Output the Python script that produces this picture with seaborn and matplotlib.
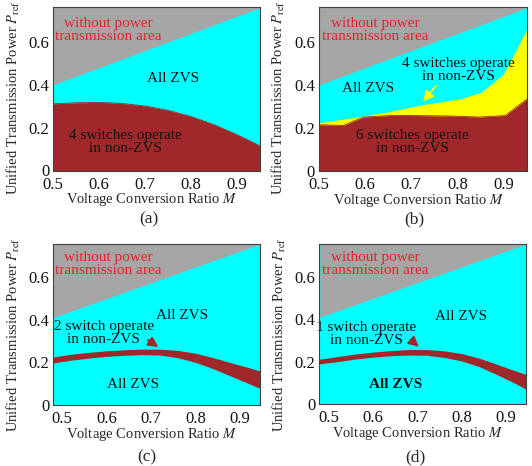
import numpy as np
import matplotlib
matplotlib.use("Agg")
import matplotlib.pyplot as plt
import seaborn as sns

# ---------------- data ----------------
xticks = [0.5, 0.6, 0.7, 0.8, 0.9]
yticks = [0.0, 0.2, 0.4, 0.6]
ytick_labels = ["0", "0.2", "0.4", "0.6"]
xtick_labels = ["0.5", "0.6", "0.7", "0.8", "0.9"]

# no-power-transmission boundary (straight line)
gray_M_ab = [0.5, 0.95]
gray_P_ab = [0.40, 0.76]
gray_M_cd = [0.48, 0.945]
gray_P_cd = [0.41, 0.755]

# (a) 4 switches non-ZVS boundary
M_a = [0.5, 0.55, 0.6, 0.65, 0.7, 0.75, 0.8, 0.85, 0.9, 0.95]
red_a = [0.311, 0.316, 0.318, 0.313, 0.301, 0.281, 0.252, 0.214, 0.167, 0.115]

# (b) yellow (4 switches) and red (6 switches) boundaries
M_b_yel = [0.5, 0.575, 0.65, 0.726, 0.806, 0.852, 0.899, 0.95]
yel_b = [0.225, 0.248, 0.275, 0.309, 0.336, 0.367, 0.45, 0.66]
M_b_red = [0.5, 0.554, 0.597, 0.662, 0.784, 0.849, 0.903, 0.95]
red_b = [0.215, 0.212, 0.251, 0.259, 0.256, 0.251, 0.258, 0.335]

# (c) 2 switch non-ZVS band
M_c = [0.48, 0.52, 0.56, 0.60, 0.64, 0.68, 0.72, 0.76, 0.80, 0.84, 0.88, 0.92, 0.945]
band_c_hi = [0.225, 0.238, 0.247, 0.254, 0.259, 0.262, 0.262, 0.256, 0.243, 0.222, 0.198, 0.175, 0.160]
band_c_lo = [0.197, 0.210, 0.220, 0.228, 0.233, 0.236, 0.234, 0.222, 0.200, 0.170, 0.135, 0.100, 0.078]

# (d) 1 switch non-ZVS band
M_d = [0.478, 0.52, 0.56, 0.60, 0.64, 0.68, 0.72, 0.76, 0.80, 0.84, 0.88, 0.92, 0.945]
band_d_hi = [0.211, 0.224, 0.236, 0.245, 0.252, 0.257, 0.257, 0.251, 0.238, 0.216, 0.187, 0.157, 0.140]
band_d_lo = [0.189, 0.200, 0.212, 0.221, 0.228, 0.231, 0.230, 0.220, 0.203, 0.176, 0.138, 0.098, 0.070]

# ---------------- style ----------------
sns.set_theme(style="white")
plt.rcParams["font.family"] = ["Liberation Serif", "DejaVu Serif"]
plt.rcParams["mathtext.fontset"] = "stix"

GRAY = "#A6A6A6"
CYAN = "#00FFFF"
DRED = "#A0282A"
YEL = "#FFFF00"
TRED = "#E8202A"
TXT = "#111111"
FS = 11

W, H = 532, 466
fig = plt.figure(figsize=(W / 100, H / 100), dpi=100)

def add_ax(l, t, r, b):
    return fig.add_axes([l / W, 1 - b / H, (r - l) / W, (b - t) / H])

ax_a = add_ax(53, 7, 260, 170.5)
ax_b = add_ax(318.5, 7, 527, 171)
ax_c = add_ax(53, 244, 260, 405)
ax_d = add_ax(319, 244, 526, 404)

def style(ax, xlim, ylim, top_px, bot_px):
    hpx = bot_px - top_px
    ax.set_facecolor(CYAN)
    ax.set_xlim(*xlim)
    ax.set_ylim(*ylim)
    ax.set_xticks(xticks)
    ax.set_xticklabels(xtick_labels)
    ax.set_yticks(yticks)
    ax.set_yticklabels(ytick_labels)
    ax.tick_params(length=0, labelsize=12, colors=TXT)
    ax.tick_params(axis="x", pad=4.5)
    ax.tick_params(axis="y", pad=2.5)
    for s in ax.spines.values():
        s.set_color("#404040")
        s.set_linewidth(0.8)
        s.set_zorder(10)
    ax.set_xlabel("Voltage Conversion Ratio $M$", fontsize=10.5)
    ax.xaxis.set_label_coords(0.478, -21.0 / hpx)
    ax.set_ylabel(r"Unified Transmission Power $P_{\rm ref}$", fontsize=10.5)
    yc = (bot_px - (top_px + 90.5)) / hpx
    ax.yaxis.set_label_coords(-0.15, yc)

def gray_region(ax, gm, gp, top):
    ax.fill_between(gm, gp, top, color=GRAY, lw=0, zorder=1)
    sns.lineplot(x=gm, y=gp, ax=ax, color=GRAY, lw=0.6, zorder=1)

def power_text(ax, x, y):
    ax.text(x, y, "without power\ntransmission area", color=TRED, fontsize=FS,
            ha="center", va="center", linespacing=1.0, zorder=5)

def label(ax, x, y, s, **kw):
    ax.text(x, y, s, fontsize=FS, ha="center", va="center", linespacing=1.0,
            color=TXT, zorder=5, **kw)

# (a)
style(ax_a, (0.5, 0.95), (0, 0.763), 7, 170.5)
gray_region(ax_a, gray_M_ab, gray_P_ab, 0.763)
ax_a.fill_between(M_a, 0, red_a, color=DRED, lw=0, zorder=2)
sns.lineplot(x=M_a, y=red_a, ax=ax_a, color=DRED, lw=0.6, zorder=2)
power_text(ax_a, 0.621, 0.655)
label(ax_a, 0.761, 0.428, "All ZVS")
label(ax_a, 0.658, 0.135, "4 switches operate\nin non-ZVS")

# (b)
style(ax_b, (0.5, 0.95), (0, 0.763), 7, 171)
gray_region(ax_b, gray_M_ab, gray_P_ab, 0.763)
ax_b.fill_between(M_b_yel, 0, yel_b, color=YEL, lw=0, zorder=2)
ax_b.fill_between(M_b_red, 0, red_b, color=DRED, lw=0, zorder=3)
sns.lineplot(x=M_b_red, y=red_b, ax=ax_b, color=DRED, lw=0.6, zorder=3)
power_text(ax_b, 0.622, 0.657)
label(ax_b, 0.606, 0.384, "All ZVS")
label(ax_b, 0.801, 0.468, "4 switches operate\nin non-ZVS")
label(ax_b, 0.703, 0.137, "6 switches operate\nin non-ZVS")
ax_b.annotate("", xy=(0.722, 0.313), xytext=(0.757, 0.405),
              arrowprops=dict(arrowstyle="-|>", color=YEL, lw=1.4, mutation_scale=15),
              zorder=6)

# (c)
style(ax_c, (0.48, 0.945), (0, 0.755), 244, 405)
gray_region(ax_c, gray_M_cd, gray_P_cd, 0.755)
ax_c.fill_between(M_c, band_c_lo, band_c_hi, color=DRED, lw=0, zorder=2)
power_text(ax_c, 0.605, 0.66)
label(ax_c, 0.769, 0.42, "All ZVS")
label(ax_c, 0.594, 0.336, "2 switch operate\nin non-ZVS")
label(ax_c, 0.66, 0.094, "All ZVS")
ax_c.annotate("", xy=(0.722, 0.264), xytext=(0.688, 0.312),
              arrowprops=dict(arrowstyle="-|>", color=DRED, lw=1.4, mutation_scale=15),
              zorder=6)

# (d)
style(ax_d, (0.478, 0.945), (0, 0.755), 244, 404)
gray_region(ax_d, gray_M_cd, gray_P_cd, 0.755)
ax_d.fill_between(M_d, band_d_lo, band_d_hi, color=DRED, lw=0, zorder=2)
power_text(ax_d, 0.604, 0.66)
label(ax_d, 0.798, 0.415, "All ZVS")
label(ax_d, 0.585, 0.332, "1 switch operate\nin non-ZVS")
label(ax_d, 0.651, 0.09, "All ZVS", fontweight="bold")
ax_d.annotate("", xy=(0.708, 0.261), xytext=(0.680, 0.312),
              arrowprops=dict(arrowstyle="-|>", color=DRED, lw=1.4, mutation_scale=15),
              zorder=6)

# captions
for lab, cx, cy in [("(a)", 149, 219), ("(b)", 414, 219), ("(c)", 147, 457), ("(d)", 415, 457)]:
    fig.text(cx / W, 1 - cy / H, lab, fontsize=12.5, ha="center", va="center")

fig.savefig("out.png", dpi=100)
